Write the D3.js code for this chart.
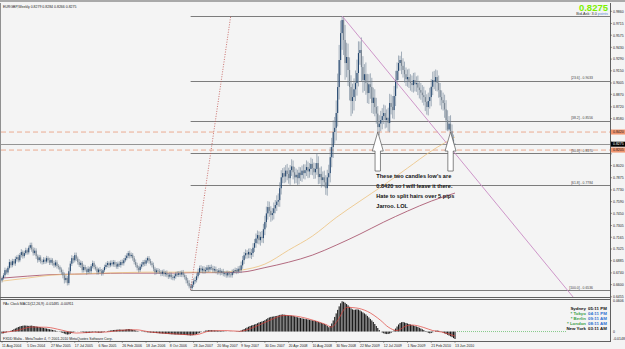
<!DOCTYPE html>
<html><head><meta charset="utf-8">
<script src="https://cdn.jsdelivr.net/npm/d3@7/dist/d3.min.js"></script>
<style>
html,body{margin:0;padding:0;background:#f4f4f4;overflow:hidden;}
svg{display:block;font-family:"Liberation Sans",Arial,sans-serif;}
</style></head><body>
<svg id="c" width="625" height="349"></svg>
<script>
// ---- DATA (prices in pips: 6678 = 0.6678) ----
const firstOpen = 6650;
const closes = [
6678,6712,6773,6745,6801,6869,6832,6880,6852,6905,6928,6890,6952,6988,6940,6976,7010,6985,7040,7071,
7020,6976,7005,6940,6892,6925,6880,6869,6898,6875,6916,6890,6862,6895,6857,6830,6865,6822,6809,6780,6749,6710,6654,6680,6618,
6760,6850,6916,6890,6952,6910,6869,6835,6860,6773,6810,6780,6749,6790,6760,6820,6857,
6810,6790,6749,6780,6760,6737,6772,6810,6835,6857,6830,6860,6842,6869,6840,6815,6850,6833,6870,6855,6890,6916,6945,6976,
6940,6955,6916,6870,6833,6800,6773,6815,6840,6869,6850,6890,6916,6880,6855,6833,6790,6749,6770,6758,6749,
6730,6755,6725,6740,6713,6695,6720,6690,6678,6700,6730,6715,6737,6720,6745,6713,6690,6650,6618,6580,6558,
6600,6640,6654,6700,6745,6797,6770,6790,6760,6773,6805,6780,6810,6797,6770,6785,6760,6749,6770,6745,6760,6725,6737,6710,6740,6720,6713,6745,6760,6773,6755,6790,6773,
6830,6892,6950,6976,6960,6990,6955,6976,7040,7095,7150,7191,7130,7170,7155,7260,7346,7450,7525,7480,7430,7453,7510,7549,7590,7608,
7750,7880,7930,7890,7960,7920,7870,7966,8010,7940,7880,7910,7870,7935,7907,7960,7930,7965,8002,7950,7980,8040,7990,7940,7980,8050,7883,7920,7847,7880,7820,7751,
7880,7930,8120,8241,8420,8470,8647,8957,9279,9600,9756,
9518,9243,9315,9160,8957,8790,8837,8930,9004,9124,9362,9398,9195,9040,9110,9004,8885,8990,8957,8766,
8830,8718,8640,8479,8520,8563,8610,8647,8563,8590,8527,8766,8720,8682,8850,9040,9150,9243,9279,9210,
9160,9110,9050,9076,9030,9004,8980,9040,8990,9004,8950,8921,8890,8860,8837,8780,8718,8790,8837,8960,
9040,9020,9076,9004,8920,8837,8800,8766,8690,8560,8450,8520,8430,8330,8279,8275];
const upWick = [
20,25,30,18,22,35,20,28,25,30, 22,30,25,35,20,28,30,22,25,29, 30,25,35,28,20,30,25,22,30,25, 28,22,30,25,20,28,30,25,22,20,
25,30,35,40,25,45,30,35,25,30, 30,25,35,28,22,30,25,28,30,22, 25,30,22,28,25,20,30,25,22,28, 30,25,20,28,30,25,22,30,25,28,
25,30,28,35,30,25,30,28,22,25, 30,28,25,35,30,25,28,30,22,25, 28,25,30,22,25,28,30,25,22,28, 25,30,22,28,25,30,28,22,30,25,
28,25,30,22,25,30,35,28,40,35, 40,35,45,30,35,28,30,35,28,30, 25,30,28,35,30,25,28,30,22,28, 25,30,28,22,30,35,28,30,25,30,
35,45,50,40,45,35,40,45,50,55, 50,60,55,45,60,70,65,75,80,70, 65,55,60,70,60,75,80,70,85,60, 70,65,80,75,60,85,70,65,75,60,
70,65,60,75,70,80,65,70,75,60, 65,70,119,80,75,90,70,80,85,90, 100,120,110,140,130,150,160,180,150,48,
30,180,170,160,150,140,160,130,150,160, 140,102,150,130,120,140,110,120,130,110, 120,100,110,90,100,110,95,100,90,100,
120,110,100,130,120,110,100,90,50,100, 90,100,80,90,100,80,90,85,90,80, 90,80,85,90,100,80,90,100,110,90,
100,110,90,80,90,85,80,90,100,110, 120,90,100,80,60,5];
const dnWick = [
25,20,30,22,28,20,30,25,22,28, 30,25,22,28,30,25,20,28,25,22, 28,30,25,35,30,22,28,30,25,28, 22,30,28,25,30,28,22,30,28,35,
30,35,40,30,28,25,30,28,35,25, 28,30,25,35,30,28,25,30,22,28, 30,25,28,22,30,28,25,30,28,22, 25,28,30,22,25,28,30,25,28,22,
30,25,28,22,25,30,28,25,30,28, 25,30,28,22,25,28,30,25,28,30, 25,28,30,35,25,28,22,30,25,28, 30,25,28,22,30,25,28,30,22,25,
28,30,25,28,35,30,25,22,20,28, 30,28,25,30,28,35,30,25,28,30, 28,25,30,28,25,30,28,35,30,25, 30,28,25,35,28,30,25,28,30,25,
30,35,40,45,40,50,45,40,50,45, 50,55,60,50,65,55,60,70,65,75, 70,80,65,75,60,70,60,80,75,70, 80,70,75,65,80,70,85,75,70,80,
75,70,80,65,75,70,80,75,70,85, 80,75,70,85,80,90,75,59,80,90, 100,110,120,130,140,150,160,150,180,200,
180,200,170,190,160,180,150,160,140,150, 160,140,170,150,130,140,120,130,140,120, 130,110,120,59,100,90,110,95,100,90,
100,110,90,100,110,120,100,110,90,100, 90,100,80,90,85,90,80,90,85,90, 90,100,85,90,100,110,90,100,90,110,
100,90,110,100,90,100,110,90,100,120, 20,20,10,60,30,9];
// MACD(12,26,9) main values, units of 0.0001
const macdMain = [
-40,-35,-25,-15,-5,5, 15,30,45,60,75,90,100,
110,115,120,118,115,112,115,118,110,105,100,95,90,85,
80,72,65,60,52,45,40,32,25,18,10,2,
-8,-18,-28,-40,-52,-60,-55,-45,
-30,-15,-5,0,2,0,-5,-10,-18,-25,-30,-28,-25,-20,-15,-12,-15,-20,-22,-25,-20,-15,-8,0,8,15,
20,25,30,32,35,38,40,38,35,36,40,45,50,48,42,35,28,20,12,5,
0,-5,-8,-10,-12,-15,-18,-20,-22,-25,-28,-30,-32,-35,-38,-40,-42,-45,-48,-50,-52,-55,-55,-58,-60,-58,-60,-62,
-62,-65,-68,-70,-72,-75,-78,-75,-70,-62,-50,-38,-25,
-12,0,10,18,22,25,28,26,24,22,20,18,15,12,10,8,5,3,0,-2,-3,-2,0,2,5,8,10,
20,35,50,65,80,95,110,120,130,140,150,165,180,190,200,
210,225,245,265,280,290,295,300,305,310,320,330,335,340,335,
330,325,320,318,315,310,300,290,282,275,268,262,255,250,245,
240,232,225,220,215,210,200,190,180,170,160,150,135,110,85,
110,160,220,290,360,430,500,560,600,
590,570,545,520,490,460,440,
430,435,440,435,420,400,380,
360,340,310,280,250,220,190,150,110,70,
30,0,-20,-35,-45,-50,-48,-40,-25,
-5,25,60,100,140,170,185,190,180,170,
160,150,140,130,120,110,100,90,75,60,45,30,
10,-10,-25,-35,-30,-15,
0,15,20,15,5,-5,
-20,-35,-50,-65,-80,-95,-110,-130,-148];
const sigIdx = [0,10,20,30,40,50,60,70,80,90,100,110,120,130,140,150,160,170,180,190,201,210,218,222,226,232,238,246,255,260,266,272,276,284,290,296,305];
const sigVal = [-20,20,90,85,30,-30,-15,-10,25,35,-10,-35,-55,-65,10,20,5,90,220,320,290,220,140,90,220,480,470,400,220,90,20,110,130,80,20,-10,-91];
// moving averages, sampled every 16 bars
const maIdx = [0,17,33,49,65,81,97,113,129,145,161,177,193,209,225,241,257,273,289,305];
const maTan = [6642,6678,6713,6725,6737,6743,6749,6749,6749,6749,6773,6845,7012,7179,7400,7596,7787,7990,8193,8360];
const maMaroon = [6678,6701,6719,6725,6731,6737,6737,6737,6743,6743,6749,6803,6868,6952,7071,7203,7346,7477,7596,7692];
const dateIdx = [0,17,33,49,65,81,97,113,129,145,161,177,193,209,225,241,257,273,289,305];
const dateLabels = ["11 Aug 2004","5 Dec 2004","27 Mar 2005","17 Jul 2005","6 Nov 2005","26 Feb 2006","18 Jun 2006","8 Oct 2006","28 Jan 2007","20 May 2007","9 Sep 2007","30 Dec 2007","20 Apr 2008","10 Aug 2008","30 Nov 2008","22 Mar 2009","12 Jul 2009","1 Nov 2009","21 Feb 2010","13 Jun 2010"];
const priceTicks = ["0.9860","0.9715","0.9575","0.9430","0.9290","0.9150","0.9005","0.8870","0.8720","0.8580","0.8440","0.8300","0.8160","0.8020","0.7875","0.7730","0.7590","0.7450","0.7305","0.7165","0.7025","0.6885","0.6740","0.6600","0.6455"];
const fibNames = ["0.0","23.6","38.2","50.0","61.8","100.0"];
const fibPrices = [0.9804,0.9033,0.8556,0.8170,0.7784,0.6536];
const fibStartIdx = 127;
const dashLevels = [0.8420,0.8205];
const bidPrice = 0.8275;
const trendA = [229,0.9804], trendB = [305,0.8166];
const dotA = [127,0.6536], dotB = [154,0.9804];
const arrowIdx = [253,302];
const arrowPrice = 0.8420;
const noteLines = ["These two candles low's are","0.8420 so I will leave it there.","Hate to split hairs over 5 pips","Jarroo. LOL"];
const clockCities = ["Sydney","* Tokyo","* Berlin","* London","New York"];
const clockTimes = ["05:11 PM","04:11 PM","09:11 AM","08:11 AM","03:11 AM"];
const macdTicks = [["0.0606",0.0606],["0",0],["-0.0148",-0.0148]];

// ---- LAYOUT ----
const svg = d3.select("#c");
const L=1, R=610, T=3, B=297, ST=300, SB=341;
const x = d3.scaleLinear().domain([0,305]).range([2,455]);
const y = d3.scaleLinear().domain([0.6536,0.9804]).range([290,16]);
const ym = d3.scaleLinear().domain([-0.0148,0.0606]).range([339,301]);
const P = v => v/10000;

svg.append("rect").attr("width",625).attr("height",349).attr("fill","#f4f4f4");
svg.append("rect").attr("width",625).attr("height",2).attr("fill","#a9a9a9");
const defs = svg.append("defs");
defs.append("clipPath").attr("id","cm").append("rect").attr("x",L).attr("y",T).attr("width",R-L).attr("height",B-T);
defs.append("clipPath").attr("id","cs").append("rect").attr("x",L).attr("y",ST).attr("width",R-L).attr("height",SB-ST);

const gm = svg.append("g").attr("clip-path","url(#cm)");

// horizontal objects
gm.selectAll(".fib").data(fibPrices).enter().append("line")
  .attr("x1",x(fibStartIdx)).attr("x2",R).attr("y1",d=>Math.round(y(d))+0.5).attr("y2",d=>Math.round(y(d))+0.5)
  .attr("stroke","#6e6e6e").attr("stroke-width",0.9);
gm.selectAll(".dash").data(dashLevels).enter().append("line")
  .attr("x1",L).attr("x2",R).attr("y1",d=>y(d)).attr("y2",d=>y(d))
  .attr("stroke","#eaa386").attr("stroke-width",0.9).attr("stroke-dasharray","5,3");
gm.append("line").attr("x1",L).attr("x2",R).attr("y1",Math.round(y(bidPrice))+0.5).attr("y2",Math.round(y(bidPrice))+0.5)
  .attr("stroke","#8a8a8a").attr("stroke-width",0.9);

// moving averages
const maLine = d3.line().x((d,i)=>x(maIdx[i])).y(d=>y(P(d))).curve(d3.curveMonotoneX);
gm.append("path").attr("d",maLine(maMaroon)).attr("fill","none").attr("stroke","#a24862").attr("stroke-width",0.8);
gm.append("path").attr("d",maLine(maTan)).attr("fill","none").attr("stroke","#ecc27e").attr("stroke-width",0.8);

// candles
const bars = closes.map((c,i)=>{
  const o = i===0 ? firstOpen : closes[i-1];
  return {i, o:P(o), c:P(c), h:P(Math.max(o,c)+upWick[i]), l:P(Math.min(o,c)-dnWick[i])};
});
const cg = gm.append("g");
cg.selectAll("line").data(bars).enter().append("line")
  .attr("x1",d=>x(d.i)).attr("x2",d=>x(d.i)).attr("y1",d=>y(d.h)).attr("y2",d=>y(d.l))
  .attr("stroke","#6a7d92").attr("stroke-width",0.6);
cg.selectAll("rect").data(bars).enter().append("rect")
  .attr("x",d=>x(d.i)-0.55).attr("width",1.1)
  .attr("y",d=>y(Math.max(d.o,d.c))).attr("height",d=>Math.max(0.6,Math.abs(y(d.o)-y(d.c))))
  .attr("fill",d=>d.c>=d.o?"#24476f":"#7a8692");

// trend lines
const slope = (y(trendB[1])-y(trendA[1]))/(x(trendB[0])-x(trendA[0]));
gm.append("line").attr("x1",x(trendA[0])).attr("y1",y(trendA[1]))
  .attr("x2",x(trendA[0])+(B+5-y(trendA[1]))/slope).attr("y2",B+5)
  .attr("stroke","#c98bc4").attr("stroke-width",0.9);
gm.append("line").attr("x1",x(dotA[0])).attr("y1",y(dotA[1])).attr("x2",x(dotB[0])).attr("y2",y(dotB[1]))
  .attr("stroke","#c0504d").attr("stroke-width",0.8).attr("stroke-dasharray","1,1.5");

// arrows
const arrowPath = "M0,0 L5.5,19 L2.7,19 L2.7,39 L-2.7,39 L-2.7,19 L-5.5,19 Z";
gm.selectAll(".arr").data(arrowIdx).enter().append("path")
  .attr("d",arrowPath).attr("transform",d=>`translate(${x(d)},${y(arrowPrice)})`)
  .attr("fill","#ffffff").attr("stroke","#555").attr("stroke-width",0.7);
// note
gm.selectAll(".note").data(noteLines).enter().append("text")
  .attr("x",x(arrowIdx[0])-1.5).attr("y",(d,i)=>178+i*10).text(d=>d)
  .attr("font-size",5.6).attr("font-weight","bold").attr("fill","#111");

// fib labels
gm.selectAll(".fibt").data(fibPrices.slice(1)).enter().append("text")
  .attr("x",R-17).attr("y",d=>y(d)-1.5).attr("text-anchor","end")
  .text((d,i)=>`[${fibNames[i+1]}] - ${d.toFixed(4)}`)
  .attr("font-size",3.4).attr("fill","#444");

// title
svg.append("text").attr("x",3).attr("y",7.5).text("EURGBP,Weekly  0.8279 0.8284 0.8266 0.8275")
  .attr("font-size",3.5).attr("fill","#222");
svg.append("text").attr("x",608).attr("y",11).attr("text-anchor","end").text(bidPrice.toFixed(4))
  .attr("font-size",9.5).attr("font-weight","bold").attr("fill","#7cf000");
const bt = svg.append("text").attr("x",608).attr("y",15).attr("text-anchor","end").attr("font-size",3.8);
bt.append("tspan").text("Bid-Ask: 3.0 ").attr("fill","#333");
bt.append("tspan").text("points").attr("fill","#5a8fd0");

// frames
svg.append("line").attr("x1",R+0.5).attr("x2",R+0.5).attr("y1",T).attr("y2",SB).attr("stroke","#606060").attr("stroke-width",1);
svg.append("line").attr("x1",0.5).attr("x2",0.5).attr("y1",T).attr("y2",SB).attr("stroke","#909090");
svg.append("line").attr("x1",0).attr("x2",R+1).attr("y1",B+0.5).attr("y2",B+0.5).attr("stroke","#606060");
svg.append("line").attr("x1",0).attr("x2",R+1).attr("y1",ST-0.5).attr("y2",ST-0.5).attr("stroke","#606060");
svg.append("line").attr("x1",0).attr("x2",R+1).attr("y1",SB+0.5).attr("y2",SB+0.5).attr("stroke","#606060");

// price axis (regular labels hidden where a highlighted label sits)
const hl = [[dashLevels[0],"#f0946e","#222"],[bidPrice,"#000","#fff"],[dashLevels[1],"#f0946e","#222"]];
const shown = priceTicks.filter(t => hl.every(h => Math.abs(y(+t)-y(h[0])) > 5));
const ay = svg.append("g");
ay.selectAll("text").data(shown).enter().append("text")
  .attr("x",613).attr("y",d=>y(+d)+1.3).text(d=>d).attr("font-size",3.5).attr("fill","#222");
ay.selectAll("line").data(priceTicks).enter().append("line")
  .attr("x1",R).attr("x2",R+2).attr("y1",d=>y(+d)).attr("y2",d=>y(+d)).attr("stroke","#555").attr("stroke-width",0.6);
hl.forEach(([v,bg,fg])=>{
  svg.append("rect").attr("x",R+1).attr("y",y(v)-2.5).attr("width",14).attr("height",5).attr("fill",bg);
  svg.append("text").attr("x",613).attr("y",y(v)+1.3).text(v.toFixed(4)).attr("font-size",3.5).attr("fill",fg);
});

// MACD subwindow
const gs = svg.append("g").attr("clip-path","url(#cs)");
gs.selectAll("rect").data(macdMain).enter().append("rect")
  .attr("x",(d,i)=>x(i)-0.55).attr("width",1.1)
  .attr("y",d=>Math.min(ym(d/10000),ym(0))).attr("height",d=>Math.abs(ym(d/10000)-ym(0)))
  .attr("fill","#1a1a1a");
const sigLine = d3.line().x((d,i)=>x(sigIdx[i])).y(d=>ym(d/10000)).curve(d3.curveMonotoneX);
gs.append("path").attr("d",sigLine(sigVal)).attr("fill","none").attr("stroke","#e0403a").attr("stroke-width",0.7);
gs.append("line").attr("x1",x(305)+2).attr("x2",566).attr("y1",ym(0)).attr("y2",ym(0))
  .attr("stroke","#3cb043").attr("stroke-width",0.6).attr("stroke-dasharray","1,1");
svg.append("text").attr("x",3).attr("y",305).text("PAc Clock     MACD(12,26,9) -0.01485 -0.00911").attr("font-size",3.5).attr("fill","#222");
svg.selectAll(".mt").data(macdTicks).enter().append("text")
  .attr("x",613).attr("y",d=>ym(d[1])+1.3).text(d=>d[0]).attr("font-size",3.5).attr("fill","#222");
// clock
clockCities.forEach((c,i)=>{
  const yy = 309.5 + i*5;
  const edge = (i===0||i===4);
  svg.append("text").attr("x",586).attr("y",yy).attr("text-anchor","end").text(c)
    .attr("font-size",4.4).attr("font-weight","bold").attr("fill",edge?"#111":"#3aa04a");
  svg.append("text").attr("x",588).attr("y",yy).text(clockTimes[i])
    .attr("font-size",4.4).attr("font-weight","bold").attr("fill",edge?"#111":"#2a6fd0");
});
svg.append("text").attr("x",3).attr("y",340).text("FXDD Malta - MetaTrader 4, \u00a9 2001-2010 MetaQuotes Software Corp.")
  .attr("font-size",3.5).attr("fill","#222");

// date axis
svg.selectAll(".dl").data(dateIdx).enter().append("text")
  .attr("x",d=>x(d)).attr("y",347).text((d,i)=>dateLabels[i]).attr("font-size",3.5).attr("fill","#222");
svg.selectAll(".dt").data(dateIdx).enter().append("line")
  .attr("x1",d=>x(d)).attr("x2",d=>x(d)).attr("y1",SB).attr("y2",SB+2).attr("stroke","#555").attr("stroke-width",0.5);
</script>
</body></html>
